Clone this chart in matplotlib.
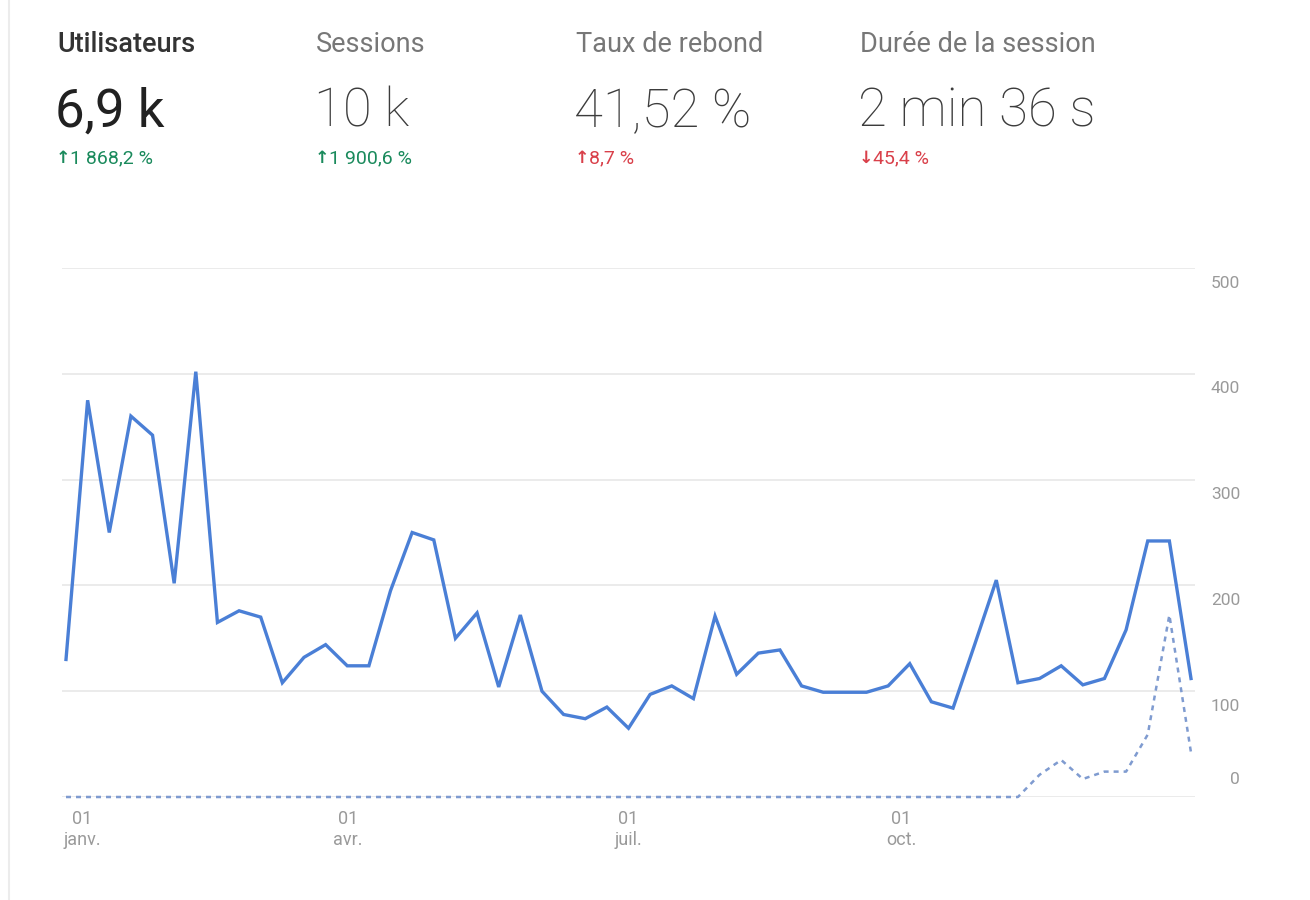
import matplotlib
matplotlib.use("Agg")
import matplotlib.pyplot as plt
from matplotlib.transforms import blended_transform_factory, ScaledTranslation
from matplotlib.lines import Line2D
import numpy as np

# ---- data ----
metric_titles = ["Utilisateurs", "Sessions", "Taux de rebond", "Durée de la session"]
metric_values = ["6,9 k", "10 k", "41,52 %", "2 min 36 s"]
metric_arrows = ["↑", "↑", "↑", "↓"]
metric_changes = ["1 868,2 %", "1 900,6 %", "8,7 %", "45,4 %"]
metric_good = [True, True, False, False]

users_current = [130, 375, 250, 360, 342, 202, 402, 165, 176, 170,
                 108, 132, 144, 124, 124, 195, 250, 243, 150, 174,
                 104, 172, 100, 78, 74, 85, 65, 97, 105, 93,
                 171, 116, 136, 139, 105, 99, 99, 99, 105, 126,
                 90, 84, 144, 205, 108, 112, 124, 106, 112, 158,
                 242, 242, 112]
users_previous = [0] * 45 + [21, 35, 17, 24, 24, 59, 172, 42]

tick_pos = [0.74, 13.03, 25.98, 38.6]
tick_labels = ["01\njanv.", "01\navr.", "01\njuil.", "01\noct."]
y_ticks = [0, 100, 200, 300, 400, 500]

# ---- figure ----
W, H = 1310, 900
fig = plt.figure(figsize=(W / 100, H / 100), dpi=100)
fig.patch.set_facecolor("white")
FONT = ["Roboto", "DejaVu Sans"]

def fx(px):
    return px / W

def fy(py):
    return 1 - py / H

# left border line
fig.add_artist(Line2D([fx(9), fx(9)], [0, 1], color="#ececec", lw=1.5))

# header metrics
col_x = [57, 316, 576, 860]
for i in range(len(metric_titles)):
    x = col_x[i]
    fig.text(fx(x), fy(44), metric_titles[i], family=FONT, fontsize=19.5,
             color="#333333" if i == 0 else "#777777",
             weight="medium" if i == 0 else "normal", va="center", ha="left")
    fig.text(fx(x - 2), fy(112), metric_values[i], family=FONT, fontsize=38,
             color="#212121" if i == 0 else "#3c3c3c",
             weight="normal" if i == 0 else "light", va="center", ha="left")
    col = "#1a8a5c" if metric_good[i] else "#d9404a"
    fig.text(fx(x - 1), fy(158), metric_arrows[i], family=["DejaVu Sans"], fontsize=12.5,
             weight="bold", color=col, va="center", ha="left")
    fig.text(fx(x + 13), fy(158), metric_changes[i], family=FONT, fontsize=14,
             color=col, va="center", ha="left")

# chart axes
ax_left, ax_right, ax_top, ax_bottom = 62, 1195, 268, 797
ax = fig.add_axes([fx(ax_left), fy(ax_bottom), (ax_right - ax_left) / W, (ax_bottom - ax_top) / H])
ax.set_facecolor("none")
n = len(users_current)
x = np.arange(n)
pxper = (1191 - 66) / (n - 1)
ax.set_xlim(-(66 - ax_left) / pxper, (n - 1) + (ax_right - 1191) / pxper)
ax.set_ylim(0, 500)

for s in ax.spines.values():
    s.set_visible(False)
for yv in y_ticks:
    ax.axhline(yv, color="#e8e8e8", lw=1.2, zorder=0)

ax.plot(x, users_previous, color="#7f9bd0", lw=1.8, linestyle=(0, (2.0, 2.0)),
        clip_on=False, zorder=2)
ax.plot(x, users_current, color="#4a7fd6", lw=2.4, solid_joinstyle="miter",
        clip_on=False, zorder=3)

ax.set_yticks([])
ax.set_xticks(tick_pos)
ax.set_xticklabels(tick_labels, family=FONT, fontsize=13, color="#9a9a9a",
                   linespacing=1.25)
ax.tick_params(axis="x", length=0, pad=9)

# y labels at right (below gridline, zero above)
trans = blended_transform_factory(fig.transFigure, ax.transData)
for yv in y_ticks:
    off = -15 if yv > 0 else 18
    t = trans + ScaledTranslation(0, off / 100, fig.dpi_scale_trans)
    ax.text(fx(1240), yv, str(yv), transform=t, family=FONT, fontsize=12.5,
            color="#9a9a9a", ha="right", va="center", clip_on=False)

fig.savefig("out.png", dpi=100, facecolor="white")
